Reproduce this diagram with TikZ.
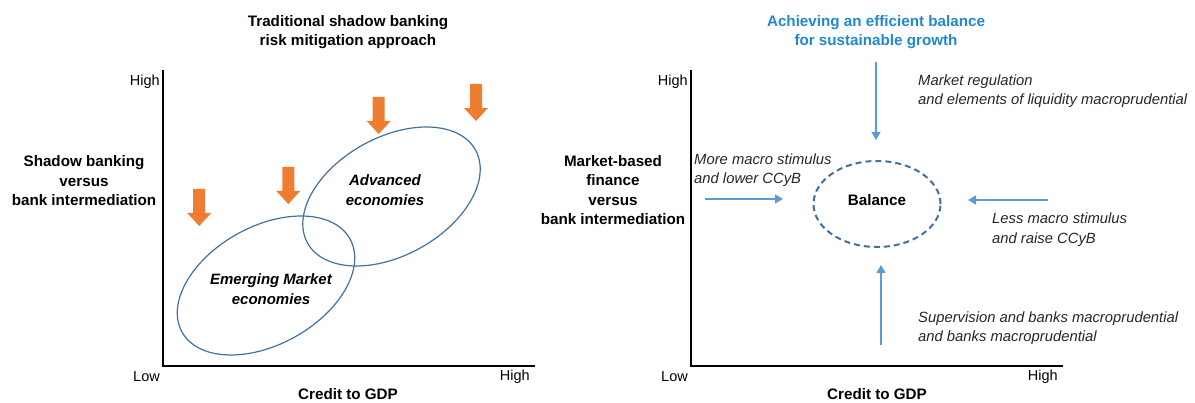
\documentclass[tikz,border=0pt]{standalone}
\usepackage{fontspec}
\setmainfont{Liberation Sans}
\usetikzlibrary{arrows.meta,shapes.geometric}
\definecolor{riskorange}{HTML}{ED7D31}
\definecolor{groupblue}{HTML}{41719C}
\definecolor{pushblue}{HTML}{5B9BD5}
\definecolor{headblue}{HTML}{1F88CF}
\definecolor{notegray}{HTML}{262626}

\begin{document}
\begin{tikzpicture}[x=1pt, y=-1pt,
  axisline/.style={line width=2.2pt},
  ticklabel/.style={font=\fontsize{14.5}{19.5}\selectfont, inner sep=0pt},
  heading/.style={font=\bfseries\fontsize{15.2}{19.5}\selectfont, align=center, inner sep=0pt},
  group/.style={draw=groupblue, line width=1.2pt},
  grouplabel/.style={font=\bfseries\itshape\fontsize{15}{19.5}\selectfont, align=center, inner sep=0pt},
  pressure/.style={fill=riskorange},
  push/.style={draw=pushblue, line width=1.3pt, -{Triangle[length=8pt,width=9pt]}},
  note/.style={font=\itshape\fontsize{14.8}{19.5}\selectfont, align=left, text=notegray, inner sep=0pt, anchor=west},
]
\useasboundingbox (0,0) rectangle (1195,403);

% left panel: traditional approach
\node[heading] (ltitle) at (348,32) {Traditional shadow banking\\risk mitigation approach};
\coordinate (ltop) at (163,70);
\coordinate (lorigin) at (163,366);
\coordinate (lend) at (535,366);
\draw[axisline] (ltop) -- (lorigin) -- (lend);
\node[ticklabel, anchor=east] (lhigh) at (160,82) {High};
\node[ticklabel, anchor=east] (llow) at (160,377) {Low};
\node[ticklabel, anchor=east] (lxhigh) at (530,377) {High};
\node[heading] (lxlabel) at (348,394.5) {Credit to GDP};
\node[heading] (lylabel) at (84,181) {Shadow banking\\versus\\bank intermediation};

\coordinate (emc) at (266,285.5);
\coordinate (adc) at (391.5,196.5);
\draw[group, rotate around={29:(emc)}] (emc) ellipse (96 and 59);
\draw[group, rotate around={29:(adc)}] (adc) ellipse (96 and 59);
\node[grouplabel] (adv) at (385,190) {Advanced\\economies};
\node[grouplabel] (emg) at (271,289) {Emerging Market\\economies};

% block arrows pushing down
\foreach \ax/\ay in {199.2/189, 288.3/167, 378.7/97, 476/84}
  \fill[pressure] (\ax-6,\ay) -- (\ax+6,\ay) -- (\ax+6,\ay+24) -- (\ax+12,\ay+24)
    -- (\ax,\ay+37) -- (\ax-12,\ay+24) -- (\ax-6,\ay+24) -- cycle;

% right panel: balance
\node[heading, text=headblue] (rtitle) at (876,32) {Achieving an efficient balance\\for sustainable growth};
\coordinate (rtop) at (691,70);
\coordinate (rorigin) at (691,366);
\coordinate (rend) at (1063,366);
\draw[axisline] (rtop) -- (rorigin) -- (rend);
\node[ticklabel, anchor=east] (rhigh) at (688,82) {High};
\node[ticklabel, anchor=east] (rlow) at (688,377) {Low};
\node[ticklabel, anchor=east] (rxhigh) at (1058,377) {High};
\node[heading] (rxlabel) at (877,394.5) {Credit to GDP};
\node[heading] (rylabel) at (613,190) {Market-based\\finance\\versus\\bank intermediation};

\node[ellipse, draw=groupblue, line width=2pt, dash pattern=on 6pt off 4pt,
  minimum width=127pt, minimum height=86pt] (bal) at (877,204) {};
\node[heading] (baltext) at (877,200) {Balance};

\coordinate (fromtop) at (876,62);
\coordinate (totop) at (876,140);
\coordinate (fromleft) at (705,199);
\coordinate (toleft) at (783,199);
\coordinate (fromright) at (1048,200);
\coordinate (toright) at (968,200);
\coordinate (frombottom) at (881,345);
\coordinate (tobottom) at (881,265);
\draw[push] (fromtop) -- (totop);
\draw[push] (fromleft) -- (toleft);
\draw[push] (fromright) -- (toright);
\draw[push] (frombottom) -- (tobottom);

\node[note] (mktreg) at (918,91) {Market regulation\\and elements of liquidity macroprudential};
\node[note] (morestim) at (694,170) {More macro stimulus\\and lower CCyB};
\node[note] (lessstim) at (992,229.5) {Less macro stimulus\\and raise CCyB};
\node[note] (superv) at (918,328) {Supervision and banks macroprudential\\and banks macroprudential};
\end{tikzpicture}
\end{document}
